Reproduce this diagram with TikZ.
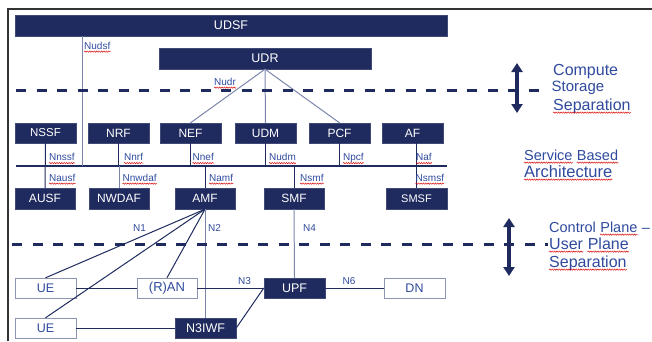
\documentclass[tikz,border=0pt]{standalone}
\usepackage{fontspec}
\setmainfont{Liberation Sans}
\usetikzlibrary{arrows.meta,decorations.pathmorphing}
\definecolor{navy}{HTML}{1F2A5E}
\definecolor{lbl}{HTML}{2F4A9E}
\definecolor{slate}{HTML}{7C86AC}
\definecolor{gbord}{HTML}{8C95B2}
\definecolor{frm}{HTML}{333333}
\newcommand\fs[1]{\fontsize{#1}{#1}\selectfont}
\newcommand\sq[1]{\draw[squig] ([yshift=-2.6pt]#1.base west) -- ([yshift=-2.6pt]#1.base east);}
\tikzset{
  dbox/.style={fill=navy, draw=navy!85!white, text=white, inner sep=0, minimum height=20, font=\fs{12}},
  wbox/.style={fill=white, draw=gbord, text=lbl, inner sep=0, minimum height=20, font=\fs{12.5}},
  lab/.style={text=lbl, font=\fs{10}, inner sep=0, anchor=base west},
  side/.style={text=lbl, inner sep=0, anchor=base west},
  dk/.style={draw=navy, line width=1},
  lt/.style={draw=slate, line width=1},
  dashsep/.style={draw=navy, line width=3, dash pattern=on 10 off 10.5},
  darr/.style={draw=navy, line width=3.5, {Triangle[width=11,length=9]}-{Triangle[width=11,length=9]}},
  squig/.style={draw=red!85!black, line width=0.45, decorate, decoration={snake, amplitude=0.7pt, segment length=2.4pt}}
}
\begin{document}
\begin{tikzpicture}[x=1pt,y=-1pt]
\useasboundingbox (0,0) rectangle (652,341);
% frame
\coordinate (fA) at (8,341); \coordinate (fB) at (8,9); \coordinate (fC) at (652,9);
\draw[frm, line width=2] (fA) -- (fB) -- (fC);

% boxes
\node[dbox, minimum width=432, minimum height=21, font=\fs{12.5}] (udsf) at (231,25.5) {UDSF};
\node[dbox, minimum width=212, minimum height=21, font=\fs{12.5}] (udr) at (265,58.5) {UDR};
\node[dbox, minimum width=61, font=\fs{11.5}] (nssf) at (45.5,133) {NSSF};
\node[dbox, minimum width=61] (nrf) at (118.5,133) {NRF};
\node[dbox, minimum width=61] (nef) at (190.5,133) {NEF};
\node[dbox, minimum width=61] (udm) at (265.5,133) {UDM};
\node[dbox, minimum width=61] (pcf) at (339.5,133) {PCF};
\node[dbox, minimum width=61] (af) at (412.5,133) {AF};
\node[dbox, minimum width=60, minimum height=21] (ausf) at (45,198.5) {AUSF};
\node[dbox, minimum width=60, minimum height=21] (nwdaf) at (119,198.5) {NWDAF};
\node[dbox, minimum width=60, minimum height=21] (amf) at (205,198.5) {AMF};
\node[dbox, minimum width=60, minimum height=21] (smf) at (294,198.5) {SMF};
\node[dbox, minimum width=61, minimum height=21, font=\fs{11}] (smsf) at (416.5,198.5) {SMSF};
\node[wbox, minimum width=61] (ue1) at (45.5,288) {UE};
\node[wbox, minimum width=60, font=\fs{13}] (ran) at (167,288) {(R)AN};
\node[dbox, minimum width=61, font=\fs{12.5}] (upf) at (294.5,288) {UPF};
\node[wbox, minimum width=61] (dn) at (414.5,288) {DN};
\node[wbox, minimum width=61] (ue2) at (45.5,328) {UE};
\node[dbox, minimum width=61, font=\fs{12.5}] (n3iwf) at (205.5,328) {N3IWF};

% service bus
\coordinate (busL) at (16,166); \coordinate (busR) at (447,166);
\coordinate (nudsfx) at (82,166);
\draw[dk, line width=1.4] (busL) -- (busR);
\draw[lt] (nudsfx |- udsf.south) -- (nudsfx);
\draw[lt] (udr.south) -- (nef.north);
\draw[lt] (udr.south) -- (udm.north);
\draw[lt] (udr.south) -- (pcf.north);
\draw[dk] (nssf.south) -- (ausf.north);
\draw[dk] (nrf.south) -- (nrf.south |- busL);
\draw[lt] (nwdaf.north) -- (nwdaf.north |- busL);
\draw[dk] (nef.south) -- (nef.south |- busL);
\draw[dk] (amf.north) -- (amf.north |- busL);
\draw[dk] (udm.south) -- (udm.south |- busL);
\draw[dk] (smf.north) -- (smf.north |- busL);
\draw[dk] (pcf.south) -- (pcf.south |- busL);
\draw[dk] (af.south -| smsf.north) -- (smsf.north);

% lower plane
\draw[dk] (amf.south) -- (ue1.north);
\draw[dk] (amf.south) -- (ue2.north);
\draw[dk] (amf.south) -- (ran.north);
\draw[lt] (n3iwf.north |- amf.south) -- (n3iwf.north);
\draw[lt] (smf.south) -- (upf.north);
\draw[dk] (ue1.east) -- (ran.west);
\draw[dk] (ran.east) -- (upf.west);
\draw[dk] (upf.east) -- (dn.west);
\draw[dk] (ue2.east) -- (n3iwf.west);
\draw[dk] (n3iwf.east) -- (upf.west);

% interface labels
\node[lab] (lnudsf) at (84,49) {Nudsf};
\node[lab] (lnudr) at (214,85) {Nudr};
\node[lab] (lnnssf) at (49,160.5) {Nnssf};
\node[lab] (lnnrf) at (124,160.5) {Nnrf};
\node[lab] (lnnef) at (192.5,160.5) {Nnef};
\node[lab] (lnudm) at (269,160.5) {Nudm};
\node[lab] (lnpcf) at (343,160.5) {Npcf};
\node[lab] (lnaf) at (416,160.5) {Naf};
\node[lab] (lnausf) at (49,181) {Nausf};
\node[lab] (lnnwdaf) at (122.5,181) {Nnwdaf};
\node[lab] (lnamf) at (209,181) {Namf};
\node[lab] (lnsmf) at (300,181) {Nsmf};
\node[lab] (lnsmsf) at (415.5,181) {Nsmsf};
\foreach \n in {lnudsf,lnudr,lnnssf,lnnrf,lnnef,lnudm,lnpcf,lnaf,lnausf,lnnwdaf,lnamf,lnsmf,lnsmsf} {\sq{\n}}
\node[lab] (ln1) at (133,231.5) {N1};
\node[lab] (ln2) at (208,231.5) {N2};
\node[lab] (ln4) at (303,231.5) {N4};
\node[lab] (ln3) at (238,284) {N3};
\node[lab] (ln6) at (342.5,284) {N6};

% separation lines
\coordinate (d1a) at (16,90); \coordinate (d1b) at (541,90);
\coordinate (d2a) at (12,244); \coordinate (d2b) at (548,244);
\draw[dashsep] (d1a) -- (d1b);
\draw[dashsep] (d2a) -- (d2b);
\coordinate (a1t) at (517,63); \coordinate (a1b) at (517,113);
\coordinate (a2t) at (509,218); \coordinate (a2b) at (509,276);
\draw[darr] (a1t) -- (a1b);
\draw[darr] (a2t) -- (a2b);

% side texts
\node[side, font=\fs{16}] (t1) at (553,75) {Compute};
\node[side, font=\fs{15}] (t2) at (551.5,91) {Storage};
\node[side, font=\fs{16}] (t3) at (553,110) {Separation};
\node[side, font=\fs{14.5}] (t4a) at (524,160) {Service};
\node[side, font=\fs{14.5}] (t4b) at ([xshift=4pt]t4a.base east) {Based};
\node[side, font=\fs{16.5}] (t5) at (524,177) {Architecture};
\node[side, font=\fs{14.5}] (t6a) at (549,232) {Control};
\node[side, font=\fs{14.5}] (t6b) at ([xshift=4pt]t6a.base east) {Plane};
\node[side, font=\fs{14.5}] (t6c) at ([xshift=4pt]t6b.base east) {–};
\node[side, font=\fs{16}] (t7a) at (549,249) {User};
\node[side, font=\fs{16}] (t7b) at ([xshift=4.4pt]t7a.base east) {Plane};
\node[side, font=\fs{16}] (t8) at (549,267) {Separation};
\foreach \n in {t3,t4a,t4b,t5,t6b,t7a,t7b,t8} {\sq{\n}}
\end{tikzpicture}
\end{document}
